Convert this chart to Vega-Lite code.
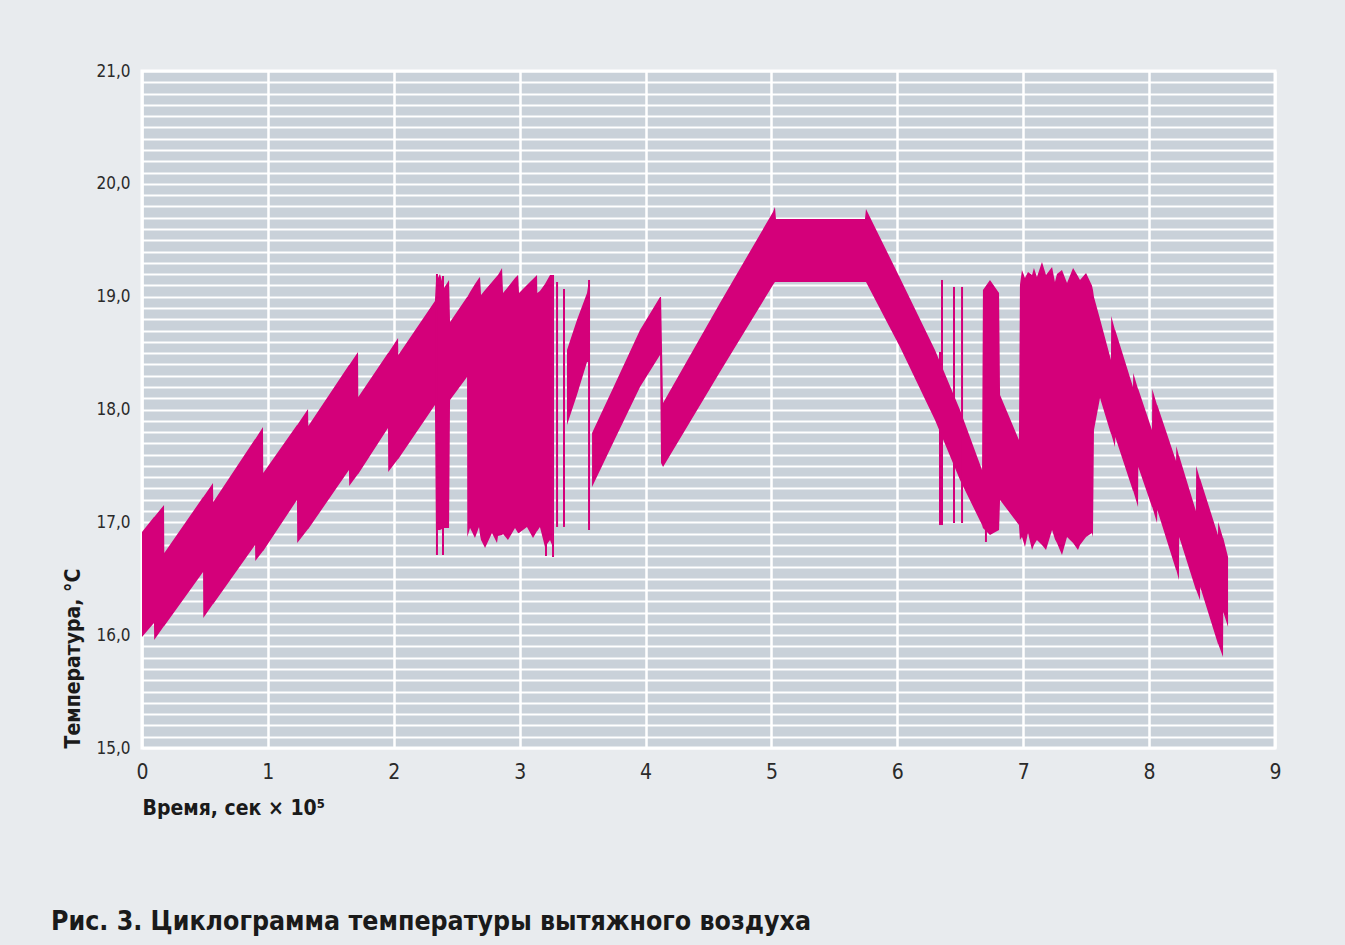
{
  "$schema": "https://vega.github.io/schema/vega-lite/v6.json",
  "width": 1133,
  "height": 677,
  "autosize": {"type": "none"},
  "padding": {"left": 142, "top": 71, "right": 70, "bottom": 197},
  "background": "#e8ebee",
  "config": {
    "view": {"fill": "#c9d1d9", "stroke": "#ffffff", "strokeWidth": 3},
    "font": "DejaVu Sans Condensed"
  },
  "title": {
    "text": "Рис. 3. Циклограмма температуры вытяжного воздуха",
    "orient": "bottom",
    "anchor": "start",
    "frame": "group",
    "dx": -91,
    "offset": 91,
    "fontSize": 26.5,
    "fontWeight": "bold",
    "font": "DejaVu Sans Condensed",
    "color": "#1a1a1a"
  },
  "datasets": {
    "band": [
      {"seg": 1, "t": 0, "hi": 16.914, "lo": 15.984},
      {"seg": 1, "t": 0.095, "hi": 17.047, "lo": 16.108},
      {"seg": 1, "t": 0.097, "hi": 17.047, "lo": 15.957},
      {"seg": 1, "t": 0.175, "hi": 17.154, "lo": 16.081},
      {"seg": 1, "t": 0.177, "hi": 16.728, "lo": 16.081},
      {"seg": 1, "t": 0.485, "hi": 17.224, "lo": 16.56},
      {"seg": 1, "t": 0.487, "hi": 17.224, "lo": 16.152},
      {"seg": 1, "t": 0.564, "hi": 17.349, "lo": 16.276},
      {"seg": 1, "t": 0.566, "hi": 17.18, "lo": 16.276},
      {"seg": 1, "t": 0.898, "hi": 17.739, "lo": 16.799},
      {"seg": 1, "t": 0.9, "hi": 17.739, "lo": 16.657},
      {"seg": 1, "t": 0.961, "hi": 17.845, "lo": 16.746},
      {"seg": 1, "t": 0.963, "hi": 17.437, "lo": 16.746},
      {"seg": 1, "t": 1.231, "hi": 17.863, "lo": 17.198},
      {"seg": 1, "t": 1.233, "hi": 17.863, "lo": 16.817},
      {"seg": 1, "t": 1.319, "hi": 18.004, "lo": 16.941},
      {"seg": 1, "t": 1.321, "hi": 17.854, "lo": 16.941},
      {"seg": 1, "t": 1.644, "hi": 18.394, "lo": 17.464},
      {"seg": 1, "t": 1.646, "hi": 18.394, "lo": 17.322},
      {"seg": 1, "t": 1.716, "hi": 18.51, "lo": 17.428},
      {"seg": 1, "t": 1.718, "hi": 18.111, "lo": 17.428},
      {"seg": 1, "t": 1.954, "hi": 18.501, "lo": 17.836},
      {"seg": 1, "t": 1.956, "hi": 18.501, "lo": 17.446},
      {"seg": 1, "t": 2.034, "hi": 18.634, "lo": 17.561},
      {"seg": 1, "t": 2.036, "hi": 18.483, "lo": 17.561},
      {"seg": 1, "t": 2.327, "hi": 18.962, "lo": 18.04},
      {"seg": 1, "t": 2.335, "hi": 19.13, "lo": 16.932},
      {"seg": 1, "t": 2.367, "hi": 19.201, "lo": 16.932},
      {"seg": 1, "t": 2.399, "hi": 19.077, "lo": 16.95},
      {"seg": 1, "t": 2.439, "hi": 19.148, "lo": 16.95},
      {"seg": 1, "t": 2.447, "hi": 18.775, "lo": 18.084},
      {"seg": 1, "t": 2.582, "hi": 18.997, "lo": 18.288},
      {"seg": 1, "t": 2.584, "hi": 18.997, "lo": 16.87},
      {"seg": 1, "t": 2.606, "hi": 19.041, "lo": 16.95},
      {"seg": 1, "t": 2.645, "hi": 19.112, "lo": 16.861},
      {"seg": 1, "t": 2.677, "hi": 19.165, "lo": 16.959},
      {"seg": 1, "t": 2.685, "hi": 19.174, "lo": 16.888},
      {"seg": 1, "t": 2.693, "hi": 19.015, "lo": 16.843},
      {"seg": 1, "t": 2.725, "hi": 19.059, "lo": 16.772},
      {"seg": 1, "t": 2.78, "hi": 19.13, "lo": 16.905},
      {"seg": 1, "t": 2.82, "hi": 19.183, "lo": 16.817},
      {"seg": 1, "t": 2.828, "hi": 19.192, "lo": 16.879},
      {"seg": 1, "t": 2.86, "hi": 19.254, "lo": 16.888},
      {"seg": 1, "t": 2.868, "hi": 19.032, "lo": 16.897},
      {"seg": 1, "t": 2.907, "hi": 19.086, "lo": 16.843},
      {"seg": 1, "t": 2.963, "hi": 19.165, "lo": 16.95},
      {"seg": 1, "t": 2.987, "hi": 19.192, "lo": 16.905},
      {"seg": 1, "t": 2.995, "hi": 19.032, "lo": 16.905},
      {"seg": 1, "t": 3.058, "hi": 19.103, "lo": 16.959},
      {"seg": 1, "t": 3.106, "hi": 19.156, "lo": 16.861},
      {"seg": 1, "t": 3.138, "hi": 19.192, "lo": 16.923},
      {"seg": 1, "t": 3.14, "hi": 19.032, "lo": 16.923},
      {"seg": 1, "t": 3.161, "hi": 19.05, "lo": 16.959},
      {"seg": 1, "t": 3.201, "hi": 19.112, "lo": 16.781},
      {"seg": 1, "t": 3.241, "hi": 19.192, "lo": 16.843},
      {"seg": 1, "t": 3.257, "hi": 19.192, "lo": 16.799},
      {"seg": 2, "t": 3.376, "hi": 18.527, "lo": 17.863},
      {"seg": 2, "t": 3.455, "hi": 18.793, "lo": 18.129},
      {"seg": 2, "t": 3.535, "hi": 19.032, "lo": 18.421},
      {"seg": 2, "t": 3.551, "hi": 19.148, "lo": 18.421},
      {"seg": 3, "t": 3.575, "hi": 17.792, "lo": 17.313},
      {"seg": 3, "t": 3.757, "hi": 18.226, "lo": 17.739},
      {"seg": 3, "t": 3.956, "hi": 18.705, "lo": 18.199},
      {"seg": 3, "t": 4.115, "hi": 18.997, "lo": 18.483},
      {"seg": 3, "t": 4.123, "hi": 18.997, "lo": 17.526},
      {"seg": 3, "t": 4.139, "hi": 18.058, "lo": 17.49},
      {"seg": 3, "t": 4.591, "hi": 18.944, "lo": 18.332},
      {"seg": 3, "t": 5.012, "hi": 19.75, "lo": 19.103},
      {"seg": 3, "t": 5.028, "hi": 19.795, "lo": 19.13},
      {"seg": 3, "t": 5.036, "hi": 19.688, "lo": 19.13},
      {"seg": 3, "t": 5.743, "hi": 19.688, "lo": 19.13},
      {"seg": 3, "t": 5.751, "hi": 19.777, "lo": 19.13},
      {"seg": 3, "t": 6.021, "hi": 19.165, "lo": 18.554},
      {"seg": 3, "t": 6.299, "hi": 18.527, "lo": 17.907},
      {"seg": 3, "t": 6.498, "hi": 17.996, "lo": 17.375},
      {"seg": 3, "t": 6.673, "hi": 17.464, "lo": 16.976},
      {"seg": 3, "t": 6.68, "hi": 19.059, "lo": 16.95},
      {"seg": 3, "t": 6.736, "hi": 19.148, "lo": 16.888},
      {"seg": 3, "t": 6.808, "hi": 19.032, "lo": 16.932},
      {"seg": 3, "t": 6.816, "hi": 18.129, "lo": 17.198},
      {"seg": 3, "t": 6.966, "hi": 17.73, "lo": 16.976},
      {"seg": 3, "t": 6.974, "hi": 19.103, "lo": 16.843},
      {"seg": 3, "t": 6.99, "hi": 19.236, "lo": 16.87},
      {"seg": 3, "t": 7.014, "hi": 19.165, "lo": 16.781},
      {"seg": 3, "t": 7.038, "hi": 19.219, "lo": 16.905},
      {"seg": 3, "t": 7.07, "hi": 19.192, "lo": 16.755},
      {"seg": 3, "t": 7.085, "hi": 19.254, "lo": 16.8},
      {"seg": 3, "t": 7.109, "hi": 19.174, "lo": 16.843},
      {"seg": 3, "t": 7.149, "hi": 19.307, "lo": 16.8},
      {"seg": 3, "t": 7.181, "hi": 19.192, "lo": 16.755},
      {"seg": 3, "t": 7.229, "hi": 19.263, "lo": 16.932},
      {"seg": 3, "t": 7.252, "hi": 19.13, "lo": 16.85},
      {"seg": 3, "t": 7.268, "hi": 19.2, "lo": 16.817},
      {"seg": 3, "t": 7.308, "hi": 19.236, "lo": 16.71},
      {"seg": 3, "t": 7.348, "hi": 19.121, "lo": 16.87},
      {"seg": 3, "t": 7.396, "hi": 19.254, "lo": 16.817},
      {"seg": 3, "t": 7.435, "hi": 19.18, "lo": 16.755},
      {"seg": 3, "t": 7.451, "hi": 19.148, "lo": 16.8},
      {"seg": 3, "t": 7.499, "hi": 19.21, "lo": 16.87},
      {"seg": 3, "t": 7.546, "hi": 19.1, "lo": 16.905},
      {"seg": 3, "t": 7.554, "hi": 19.059, "lo": 16.87},
      {"seg": 3, "t": 7.562, "hi": 18.997, "lo": 17.818},
      {"seg": 3, "t": 7.61, "hi": 18.802, "lo": 18.102},
      {"seg": 3, "t": 7.697, "hi": 18.439, "lo": 17.783},
      {"seg": 3, "t": 7.699, "hi": 18.829, "lo": 17.783},
      {"seg": 3, "t": 7.729, "hi": 18.705, "lo": 17.668},
      {"seg": 3, "t": 7.731, "hi": 18.705, "lo": 17.756},
      {"seg": 3, "t": 7.872, "hi": 18.199, "lo": 17.278},
      {"seg": 3, "t": 7.874, "hi": 18.323, "lo": 17.278},
      {"seg": 3, "t": 7.912, "hi": 18.182, "lo": 17.136},
      {"seg": 3, "t": 7.914, "hi": 18.182, "lo": 17.49},
      {"seg": 3, "t": 8.023, "hi": 17.818, "lo": 17.136},
      {"seg": 3, "t": 8.025, "hi": 18.182, "lo": 17.136},
      {"seg": 3, "t": 8.063, "hi": 18.04, "lo": 16.994},
      {"seg": 3, "t": 8.065, "hi": 18.04, "lo": 17.109},
      {"seg": 3, "t": 8.214, "hi": 17.544, "lo": 16.577},
      {"seg": 3, "t": 8.216, "hi": 17.676, "lo": 16.577},
      {"seg": 3, "t": 8.237, "hi": 17.588, "lo": 16.489},
      {"seg": 3, "t": 8.239, "hi": 17.588, "lo": 16.87},
      {"seg": 3, "t": 8.372, "hi": 17.1, "lo": 16.4},
      {"seg": 3, "t": 8.374, "hi": 17.499, "lo": 16.4},
      {"seg": 3, "t": 8.404, "hi": 17.384, "lo": 16.312},
      {"seg": 3, "t": 8.406, "hi": 17.384, "lo": 16.427},
      {"seg": 3, "t": 8.547, "hi": 16.888, "lo": 15.922},
      {"seg": 3, "t": 8.549, "hi": 17.003, "lo": 15.922},
      {"seg": 3, "t": 8.587, "hi": 16.861, "lo": 15.806},
      {"seg": 3, "t": 8.589, "hi": 16.861, "lo": 16.205},
      {"seg": 3, "t": 8.627, "hi": 16.693, "lo": 16.072}
    ],
    "spikes": [
      {"t": 2.343, "hi": 19.201, "lo": 16.71},
      {"t": 2.391, "hi": 19.183, "lo": 16.71},
      {"t": 3.209, "hi": 16.932, "lo": 16.702},
      {"t": 3.265, "hi": 19.192, "lo": 16.693},
      {"t": 3.297, "hi": 19.13, "lo": 16.959},
      {"t": 3.352, "hi": 19.068, "lo": 16.959},
      {"t": 3.551, "hi": 19.148, "lo": 16.932},
      {"t": 6.339, "hi": 18.51, "lo": 16.976},
      {"t": 6.355, "hi": 19.148, "lo": 16.976},
      {"t": 6.45, "hi": 19.086, "lo": 16.994},
      {"t": 6.514, "hi": 19.086, "lo": 16.994},
      {"t": 6.704, "hi": 16.95, "lo": 16.826}
    ]
  },
  "encoding": {
    "x": {
      "field": "t",
      "type": "quantitative",
      "scale": {"domain": [0, 9], "nice": false, "zero": false},
      "axis": {
        "values": [0, 1, 2, 3, 4, 5, 6, 7, 8, 9],
        "tickCount": 100,
        "format": "d",
        "labelFlush": false,
        "title": "Время, сек × 10⁵",
        "titleAnchor": "start",
        "titleAlign": "left",
        "titleFontSize": 21,
        "titleFontWeight": "bold",
        "titleColor": "#1a1a1a",
        "titlePadding": 15,
        "labelFontSize": 21,
        "labelFontWeight": "normal",
        "labelColor": "#2a2a2a",
        "labelPadding": 13,
        "ticks": false,
        "domain": false,
        "grid": true,
        "gridColor": "#ffffff",
        "gridWidth": 2.5,
        "gridOpacity": 1
      }
    },
    "y": {
      "field": "hi",
      "type": "quantitative",
      "scale": {"domain": [15, 21], "nice": false, "zero": false},
      "axis": {
        "values": [15, 15.1, 15.2, 15.3, 15.4, 15.5, 15.6, 15.7, 15.8, 15.9, 16, 16.1, 16.2, 16.3, 16.4, 16.5, 16.6, 16.7, 16.8, 16.9, 17, 17.1, 17.2, 17.3, 17.4, 17.5, 17.6, 17.7, 17.8, 17.9, 18, 18.1, 18.2, 18.3, 18.4, 18.5, 18.6, 18.7, 18.8, 18.9, 19, 19.1, 19.2, 19.3, 19.4, 19.5, 19.6, 19.7, 19.8, 19.9, 20, 20.1, 20.2, 20.3, 20.4, 20.5, 20.6, 20.7, 20.8, 20.9, 21],
        "tickCount": 100,
        "labelExpr": "abs(datum.value - round(datum.value)) < 0.01 ? replace(format(datum.value, '.1f'), '.', ',') : ''",
        "labelOverlap": false,
        "labelFlush": false,
        "title": "Температура, °С",
        "titleAnchor": "start",
        "titleFontSize": 21,
        "titleFontWeight": "bold",
        "titleColor": "#1a1a1a",
        "titlePadding": 12,
        "labelFontSize": 17,
        "labelColor": "#2a2a2a",
        "labelPadding": 12,
        "ticks": false,
        "domain": false,
        "grid": true,
        "gridColor": "#ffffff",
        "gridWidth": 2,
        "gridOpacity": 1
      }
    },
    "y2": {"field": "lo"}
  },
  "layer": [
    {
      "data": {"name": "band"},
      "mark": {"type": "area", "color": "#d4007a", "interpolate": "linear"},
      "encoding": {
        "detail": {"field": "seg", "type": "nominal"}
      }
    },
    {
      "data": {"name": "spikes"},
      "mark": {"type": "rule", "color": "#d4007a", "strokeWidth": 2},
      "encoding": {}
    }
  ]
}
